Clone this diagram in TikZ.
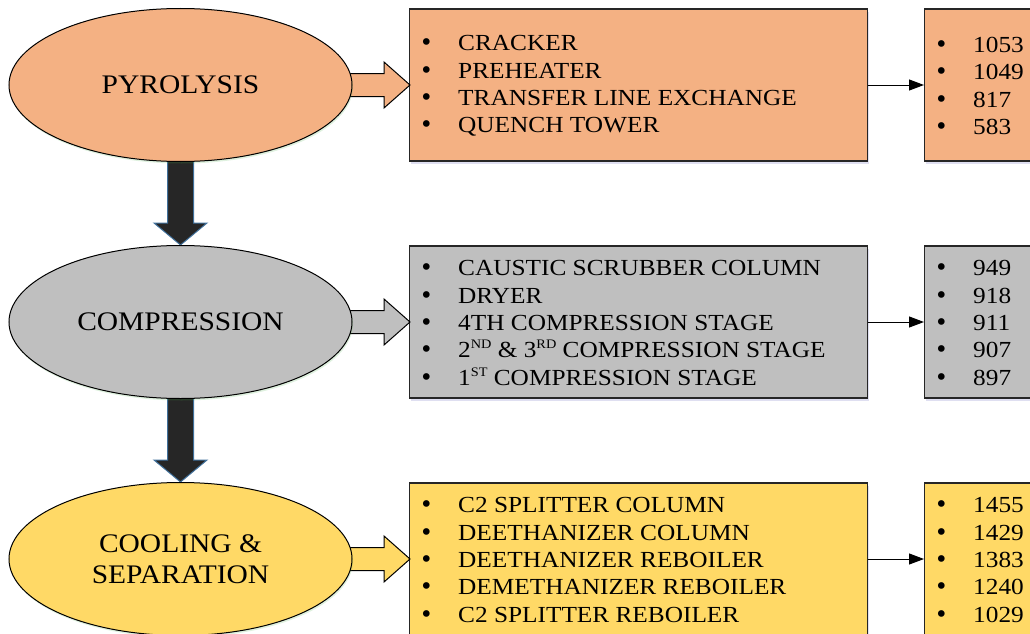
\documentclass[tikz,border=0pt]{standalone}
\usepackage{fontspec}
\setmainfont{Liberation Serif}[FakeStretch=1.1]
\newfontfamily\bulletfont{DejaVu Sans}
\usetikzlibrary{shapes.geometric,arrows.meta,calc,shadows}

\definecolor{pyro}{HTML}{F4B183}
\definecolor{comp}{HTML}{BFBFBF}
\definecolor{cool}{HTML}{FFD966}
\definecolor{darkfill}{HTML}{262626}
\definecolor{arrowedge}{HTML}{41719C}
\definecolor{boxedge}{HTML}{262626}

% one bulleted line of a list
\newcommand\bitem[1]{\makebox[38.5pt][l]{\bulletfont •}#1}
% small raised ordinal suffix
\newcommand\ordsup[1]{\raisebox{9pt}{\fontsize{13}{13}\selectfont #1}}

\begin{document}
\begin{tikzpicture}[x=1pt,y=-1pt,
  stage/.style={ellipse,draw=black,line width=1pt,minimum width=343pt,minimum height=153pt,
    inner sep=0pt,align=center,font=\fontsize{26.8}{31}\selectfont,
    drop shadow={shadow xshift=1pt,shadow yshift=-2pt,fill=green!40!gray,opacity=.18}},
  panel/.style={rectangle,draw=boxedge,line width=1.1pt,minimum height=152pt,inner sep=0pt,anchor=west,
    drop shadow={shadow xshift=1.5pt,shadow yshift=-3pt,fill=blue!40!gray,opacity=.18}},
  listbox/.style={panel,minimum width=458pt},
  valbox/.style={panel,minimum width=130pt},
  listtext/.style={anchor=west,inner sep=0pt,align=left,font=\fontsize{23}{27.3}\selectfont},
  fatarrow/.style={fill=darkfill,draw=arrowedge,line width=1pt,line join=miter},
  sidearrow/.style={draw=black,line width=1pt,line join=miter},
  thinarrow/.style={draw=black,line width=1pt,-{Triangle[length=15pt,width=11pt]}}
]
\useasboundingbox (0,0) rectangle (1030,634);

% list and value panels
\node[listbox,fill=pyro] (l1) at (409,85) {};
\node[listbox,fill=comp] (l2) at (409,322) {};
\node[listbox,fill=cool] (l3) at (409,559) {};
\node[valbox,fill=pyro] (v1) at (924,85) {};
\node[valbox,fill=comp] (v2) at (924,322) {};
\node[valbox,fill=cool] (v3) at (924,559) {};

\node[listtext] (t1) at (419.5,86) {\bitem{CRACKER}\\ \bitem{PREHEATER}\\ \bitem{TRANSFER LINE EXCHANGE}\\ \bitem{QUENCH TOWER}};
\node[listtext] (t2) at (419.5,323) {\bitem{CAUSTIC SCRUBBER COLUMN}\\ \bitem{DRYER}\\ \bitem{4TH COMPRESSION STAGE}\\ \bitem{2\ordsup{ND} \& 3\ordsup{RD} COMPRESSION STAGE}\\ \bitem{1\ordsup{ST} COMPRESSION STAGE}};
\node[listtext] (t3) at (419.5,560) {\bitem{C2 SPLITTER COLUMN}\\ \bitem{DEETHANIZER COLUMN}\\ \bitem{DEETHANIZER REBOILER}\\ \bitem{DEMETHANIZER REBOILER}\\ \bitem{C2 SPLITTER REBOILER}};

\node[listtext] (n1) at (934.5,86) {\bitem{1053}\\ \bitem{1049}\\ \bitem{817}\\ \bitem{583}};
\node[listtext] (n2) at (934.5,323) {\bitem{949}\\ \bitem{918}\\ \bitem{911}\\ \bitem{907}\\ \bitem{897}};
\node[listtext] (n3) at (934.5,560) {\bitem{1455}\\ \bitem{1429}\\ \bitem{1383}\\ \bitem{1240}\\ \bitem{1029}};

% stage centres, so the arrows can be laid beneath the ellipses
\coordinate (pc) at (180.5,85);
\coordinate (cc) at (180.5,322);
\coordinate (sc) at (180.5,559);

% block arrows from each stage to its list
\foreach \y/\col in {85/pyro,322/comp,559/cool}{
  \draw[sidearrow,fill=\col] (344,\y-11.5) -- (384,\y-11.5) -- (384,\y-23) -- (410,\y)
    -- (384,\y+23) -- (384,\y+11.5) -- (344,\y+11.5) -- cycle;
}

% heavy arrows between stages
\draw[fatarrow] ($(pc)+(-13,70)$) -- ($(cc)+(-13,-99)$) -- ($(cc)+(-26.5,-99)$) -- ($(cc)+(0,-77)$)
  -- ($(cc)+(26.5,-99)$) -- ($(cc)+(13,-99)$) -- ($(pc)+(13,70)$) -- cycle;
\draw[fatarrow] ($(cc)+(-13,70)$) -- ($(sc)+(-13,-99)$) -- ($(sc)+(-26.5,-99)$) -- ($(sc)+(0,-77)$)
  -- ($(sc)+(26.5,-99)$) -- ($(sc)+(13,-99)$) -- ($(cc)+(13,70)$) -- cycle;

\node[stage,fill=pyro] (p) at (pc) {PYROLYSIS};
\node[stage,fill=comp] (c) at (cc) {COMPRESSION};
\node[stage,fill=cool] (s) at (sc) {COOLING \&\\SEPARATION};

% arrows from lists to values
\draw[thinarrow] (l1.east) -- (v1.west);
\draw[thinarrow] (l2.east) -- (v2.west);
\draw[thinarrow] (l3.east) -- (v3.west);
\end{tikzpicture}
\end{document}
